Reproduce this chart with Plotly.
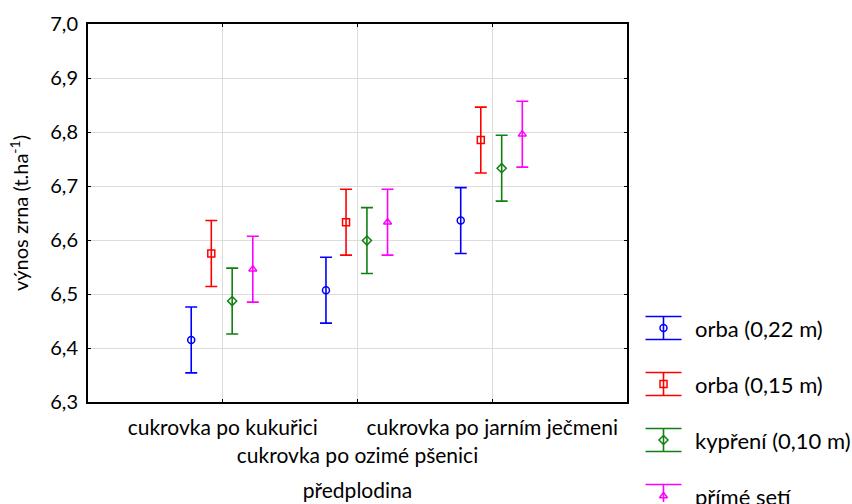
import plotly.graph_objects as go

categories = ["cukrovka po kukuřici", "cukrovka po ozimé pšenici", "cukrovka po jarním ječmeni"]
cat_pos = [1, 2, 3]
series_names = ["orba (0,22 m)", "orba (0,15 m)", "kypření (0,10 m)", "přímé setí"]
orba22 = [6.415, 6.507, 6.636]
orba15 = [6.575, 6.633, 6.785]
kypreni10 = [6.487, 6.599, 6.733]
prime_seti = [6.546, 6.633, 6.796]
err22 = [0.061, 0.061, 0.061]
err15 = [0.061, 0.061, 0.061]
err10 = [0.061, 0.061, 0.061]
errps = [0.061, 0.061, 0.061]

values = [orba22, orba15, kypreni10, prime_seti]
errors = [err22, err15, err10, errps]
colors = ["#0000FF", "#FF0000", "#108010", "#FF00FF"]
symbols = ["circle-open", "square-open", "diamond-open", "triangle-up-open"]
offsets = [-0.234, -0.085, 0.07, 0.223]

FONT = "Lato"
fig = go.Figure()

for name, vals, errs, col, sym, off in zip(series_names, values, errors, colors, symbols, offsets):
    fig.add_trace(go.Scatter(
        x=[p + off for p in cat_pos], y=vals, mode="markers", name=name,
        marker=dict(symbol=sym, size=7, color=col, line=dict(width=1.5, color=col)),
        error_y=dict(type="data", array=errs, visible=True, color=col, thickness=1.6, width=6),
        showlegend=False, xaxis="x", yaxis="y",
    ))

# legend drawn on a separate invisible axis
leg_idx = [0, 1, 2, 3]
for i, name, col, sym in zip(leg_idx, series_names, colors, symbols):
    fig.add_trace(go.Scatter(
        x=[36.5], y=[i], mode="markers", showlegend=False,
        marker=dict(symbol=sym, size=7, color=col, line=dict(width=1.5, color=col)),
        error_y=dict(type="constant", value=0.205, visible=True, color=col, thickness=1.6, width=18),
        xaxis="x2", yaxis="y2", cliponaxis=False, hoverinfo="skip",
    ))
    fig.add_annotation(x=66, y=i, xref="x2", yref="y2", text=name, showarrow=False,
                       xanchor="left", yanchor="middle", font=dict(family=FONT, size=22, color="#000"))

ticktext = [categories[0], "<br>" + categories[1], categories[2]]

fig.update_layout(
    width=852, height=504,
    margin=dict(l=88, r=5, t=24, b=2, autoexpand=False),
    paper_bgcolor="white", plot_bgcolor="white",
    separators=", ",
    font=dict(family=FONT, size=21, color="#000"),
    xaxis=dict(
        domain=[0, 539 / 759], range=[0, 4], tickmode="array", tickvals=cat_pos, ticktext=ticktext,
        tickangle=0, automargin=False, ticklabelstandoff=6,
        showgrid=True, gridcolor="#DCDCDC", gridwidth=1, zeroline=False,
        showline=True, linecolor="#000", linewidth=2, mirror="ticks",
        ticks="inside", ticklen=3, tickcolor="#000",
        tickfont=dict(family=FONT, size=21),
        title=dict(text="předplodina", font=dict(family=FONT, size=21), standoff=18),
    ),
    yaxis=dict(
        domain=[(502 - 402) / 478, 1], range=[6.3, 7.0], tickmode="linear", tick0=6.3, dtick=0.1,
        tickformat=".1f", automargin=False, ticklabelstandoff=4,
        showgrid=True, gridcolor="#DCDCDC", gridwidth=1, zeroline=False,
        showline=True, linecolor="#000", linewidth=2, mirror="ticks",
        ticks="inside", ticklen=3, tickcolor="#000",
        tickfont=dict(family=FONT, size=20),
        title=dict(text="výnos zrna (t.ha<sup>-1</sup>)", font=dict(family=FONT, size=20), standoff=16),
    ),
    xaxis2=dict(domain=[539 / 759, 1], range=[0, 220], visible=False, anchor="y2", fixedrange=True),
    yaxis2=dict(domain=[0, 1], range=[3.107, -5.4286], visible=False, anchor="x2", fixedrange=True),
)

fig.write_html("out.html")
